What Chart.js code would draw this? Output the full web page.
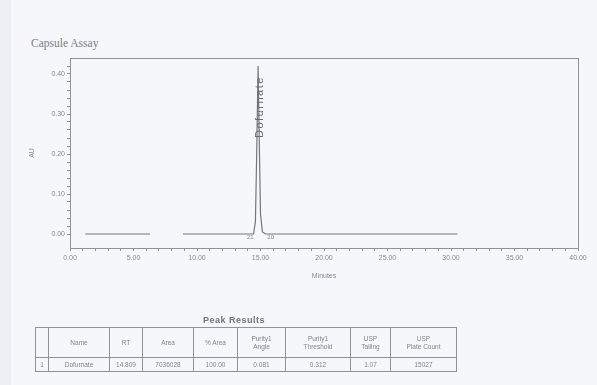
<!DOCTYPE html>
<html>
<head>
<meta charset="utf-8">
<script src="https://cdn.jsdelivr.net/npm/chart.js@4"></script>
<style>
  html, body { margin: 0; padding: 0; }
  body { width: 597px; height: 385px; background: #f5f7fb; position: relative; overflow: hidden;
         font-family: "Liberation Sans", Arial, sans-serif; color: #858a92; }
  .strip { position: absolute; left: 0; top: 0; width: 11px; height: 385px; background: #eceff4; }
  #chart { position: absolute; left: 0; top: 0; }
  .title { position: absolute; left: 31px; top: 37px; font: 11.5px "Liberation Serif", serif; color: #7a7f87; }
  .caption { position: absolute; left: 203px; top: 315px; font: bold 9px "Liberation Sans", sans-serif; color: #6f747c; letter-spacing: 0.5px; }
  table { position: absolute; left: 35px; top: 327px; border-collapse: collapse; font-size: 6.5px; color: #80858d; }
  td, th { border: 1px solid #8f949b; padding: 0; text-align: center; font-weight: normal; line-height: 7.5px; }
  th { height: 29px; }
  td { height: 13px; }
</style>
</head>
<body>
<div class="strip"></div>
<div class="title">Capsule Assay</div>
<canvas id="chart" width="597" height="385"></canvas>
<div class="caption">Peak Results</div>
<table id="results"></table>
<script>
// chromatogram trace (minutes / AU); null = gap in the trace
const retentionTimes = [1.2, 6.3, 7.5, 8.9, 14.45, 14.6, 14.7, 14.81, 14.92, 15.0, 15.15, 15.4, 30.5];
const absorbance     = [0,   0,   null, 0,  0,     0.03, 0.2,  0.42,  0.2,   0.05, 0.005, 0,    0];

const peakName = 'Dofurnate';
const peakRT = 14.81;

const xTickLabels = ['0.00', '5.00', '10.00', '15.00', '20.00', '25.00', '30.00', '35.00', '40.00'];
const yTickLabels = ['0.00', '0.10', '0.20', '0.30', '0.40'];

// peak results table
const tableHeaders = ['', 'Name', 'RT', 'Area', '% Area', 'Purity1<br>Angle', 'Purity1<br>Threshold', 'USP<br>Tailing', 'USP<br>Plate Count'];
const tableRow = ['1', 'Dofurnate', '14.809', '7036028', '100.00', '0.081', '0.312', '1.07', '15027'];
const colWidths = [13, 61, 33, 51, 44, 48, 65, 40, 66];

const tbl = document.getElementById('results');
tbl.innerHTML =
  '<tr>' + tableHeaders.map((h, i) => `<th style="width:${colWidths[i] - 1}px">${h}</th>`).join('') + '</tr>' +
  '<tr>' + tableRow.map(v => `<td>${v}</td>`).join('') + '</tr>';

const lineGrey = '#8e939a';
const textGrey = '#858a92';

const framePlugin = {
  id: 'frame',
  afterDatasetsDraw(chart) {
    const { ctx, chartArea: a, scales } = chart;
    ctx.save();
    ctx.strokeStyle = lineGrey;
    ctx.lineWidth = 1;
    ctx.strokeRect(a.left + 0.5, a.top + 0.5, a.right - a.left, a.bottom - a.top);

    // peak label along the peak
    const px = scales.x.getPixelForValue(peakRT);
    const py = scales.y.getPixelForValue(0.24);
    ctx.translate(px + 2, py);
    ctx.rotate(-Math.PI / 2);
    ctx.fillStyle = '#686d74';
    ctx.font = '11px "Liberation Sans", sans-serif';
    ctx.letterSpacing = '1.5px';
    ctx.textBaseline = 'middle';
    ctx.fillText(peakName, 0, 0);
    ctx.restore();

    // integration markers
    ctx.save();
    ctx.fillStyle = textGrey;
    ctx.font = '6px "Liberation Sans", sans-serif';
    ctx.textAlign = 'center';
    const by = scales.y.getPixelForValue(0) + 5;
    ctx.fillText('21', scales.x.getPixelForValue(14.2), by);
    ctx.fillText('20', scales.x.getPixelForValue(15.8), by);
    ctx.restore();
  }
};

new Chart(document.getElementById('chart'), {
  type: 'line',
  data: {
    datasets: [{
      data: retentionTimes.map((t, i) => ({ x: t, y: absorbance[i] })),
      borderColor: '#72777e',
      borderWidth: 1.2,
      pointRadius: 0,
      tension: 0,
      spanGaps: false,
      fill: false
    }]
  },
  options: {
    responsive: false,
    animation: false,
    devicePixelRatio: 1,
    layout: { padding: { left: 28, top: 58, right: 19, bottom: 105 } },
    plugins: { legend: { display: false }, tooltip: { enabled: false } },
    scales: {
      x: {
        type: 'linear',
        min: 0,
        max: 40,
        afterBuildTicks: s => { s.ticks = []; for (let v = 0; v <= 40; v++) s.ticks.push({ value: v }); },
        afterFit: s => { s.height = 32; },
        ticks: {
          autoSkip: false,
          maxRotation: 0,
          padding: 3,
          color: textGrey,
          font: { size: 7, family: '"Liberation Sans", sans-serif' },
          callback: v => (v % 5 === 0 ? xTickLabels[v / 5] : '')
        },
        grid: { drawOnChartArea: false, tickLength: 3, color: lineGrey },
        border: { color: lineGrey },
        title: { display: true, text: 'Minutes', color: textGrey, padding: 0,
                 font: { size: 7, family: '"Liberation Sans", sans-serif' } }
      },
      y: {
        min: -0.035,
        max: 0.44,
        afterBuildTicks: s => { s.ticks = []; for (let k = 0; k <= 21; k++) s.ticks.push({ value: k * 0.02 }); },
        afterFit: s => { s.width = 42; },
        ticks: {
          autoSkip: false,
          padding: 2,
          color: textGrey,
          font: { size: 7, family: '"Liberation Sans", sans-serif' },
          callback: v => {
            const k = Math.round(v * 50);
            return k % 5 === 0 ? yTickLabels[k / 5] : '';
          }
        },
        grid: { drawOnChartArea: false, tickLength: 3, color: lineGrey },
        border: { color: lineGrey },
        title: { display: true, text: 'AU', color: textGrey, padding: 0,
                 font: { size: 7, family: '"Liberation Sans", sans-serif' } }
      }
    }
  },
  plugins: [framePlugin]
});
</script>
</body>
</html>
